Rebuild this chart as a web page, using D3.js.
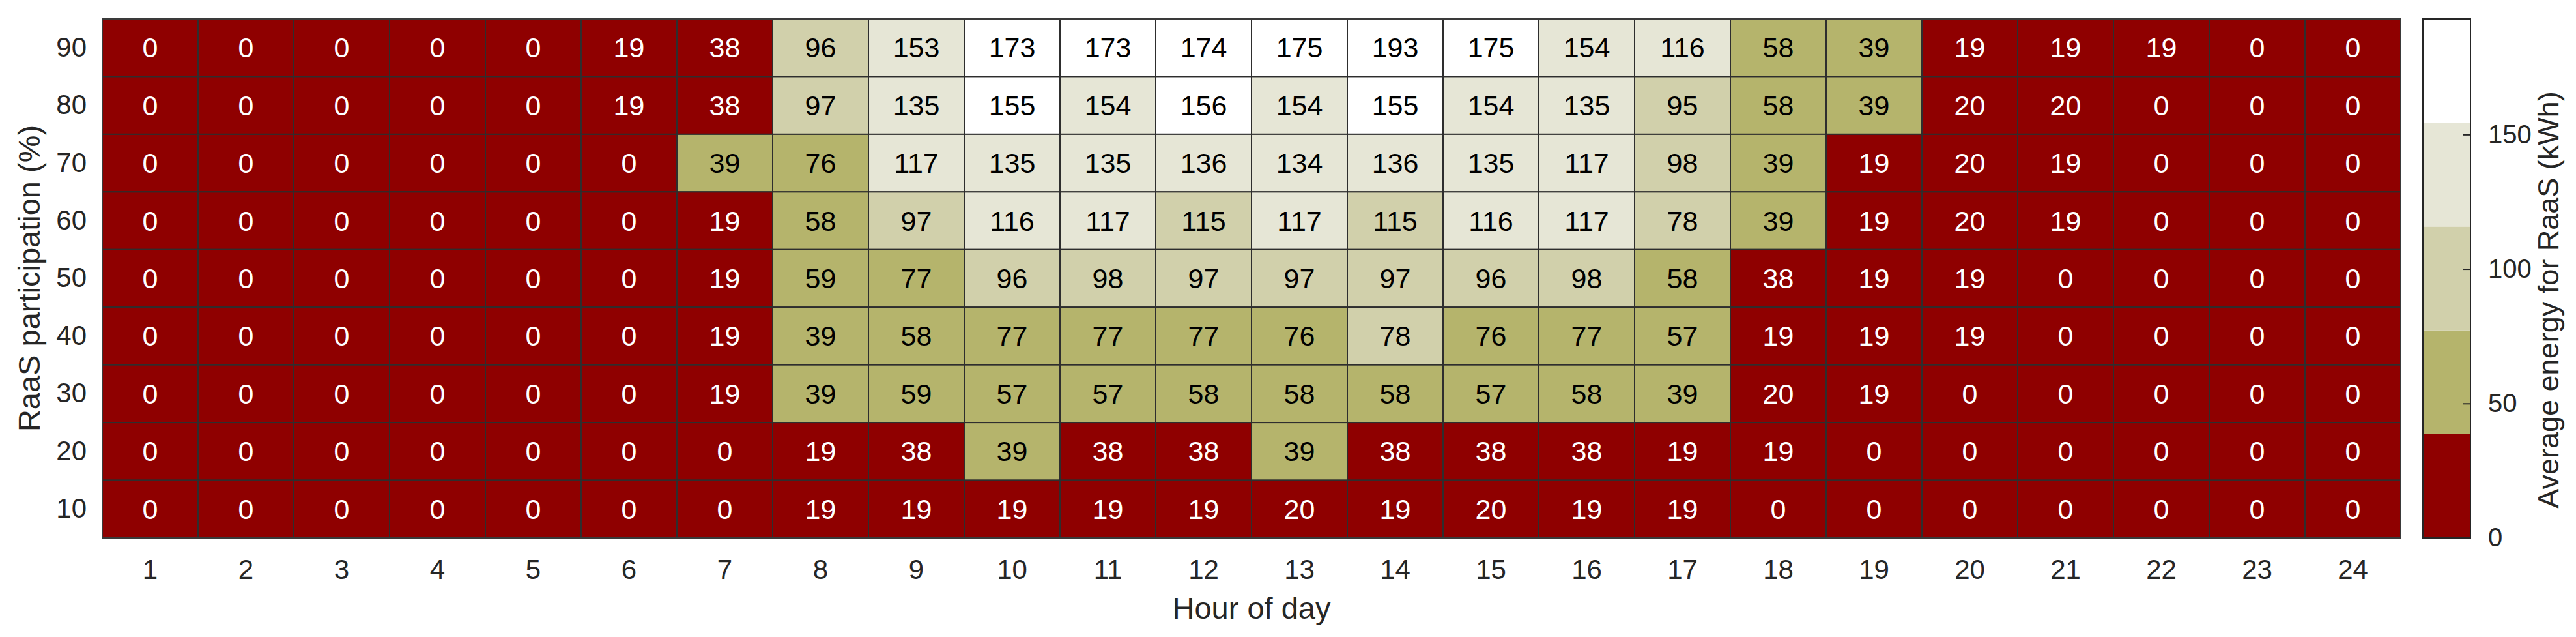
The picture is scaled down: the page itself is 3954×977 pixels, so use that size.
<!DOCTYPE html>
<html>
<head>
<meta charset="utf-8">
<script src="https://cdn.jsdelivr.net/npm/d3@7"></script>
<style>
  html, body { margin: 0; padding: 0; background: #fff; }
  svg { display: block; font-family: "Liberation Sans", Arial, sans-serif; }
</style>
</head>
<body>
<svg id="chart" width="3954" height="977"></svg>
<script>
// hours on x, participation levels on y (top row first)
const hours = d3.range(1, 25);
const participation = [90, 80, 70, 60, 50, 40, 30, 20, 10];

const energy = [
  [0, 0, 0, 0, 0, 19, 38, 96, 153, 173, 173, 174, 175, 193, 175, 154, 116, 58, 39, 19, 19, 19, 0, 0],
  [0, 0, 0, 0, 0, 19, 38, 97, 135, 155, 154, 156, 154, 155, 154, 135, 95, 58, 39, 20, 20, 0, 0, 0],
  [0, 0, 0, 0, 0, 0, 39, 76, 117, 135, 135, 136, 134, 136, 135, 117, 98, 39, 19, 20, 19, 0, 0, 0],
  [0, 0, 0, 0, 0, 0, 19, 58, 97, 116, 117, 115, 117, 115, 116, 117, 78, 39, 19, 20, 19, 0, 0, 0],
  [0, 0, 0, 0, 0, 0, 19, 59, 77, 96, 98, 97, 97, 97, 96, 98, 58, 38, 19, 19, 0, 0, 0, 0],
  [0, 0, 0, 0, 0, 0, 19, 39, 58, 77, 77, 77, 76, 78, 76, 77, 57, 19, 19, 19, 0, 0, 0, 0],
  [0, 0, 0, 0, 0, 0, 19, 39, 59, 57, 57, 58, 58, 58, 57, 58, 39, 20, 19, 0, 0, 0, 0, 0],
  [0, 0, 0, 0, 0, 0, 0, 19, 38, 39, 38, 38, 39, 38, 38, 38, 19, 19, 0, 0, 0, 0, 0, 0],
  [0, 0, 0, 0, 0, 0, 0, 19, 19, 19, 19, 19, 20, 19, 20, 19, 19, 0, 0, 0, 0, 0, 0, 0]
];

const binColors = ["#8f0000", "#b5b46c", "#d1d0ab", "#e6e6d6", "#ffffff"];
const colorTicks = [0, 50, 100, 150];
const colorMax = 193;

const svg = d3.select("#chart");
const plotLeft = 157, plotRight = 3685, plotTop = 29, plotBottom = 825;
const tickColor = "#262626";

const x = d3.scaleBand().domain(hours).range([plotLeft, plotRight]);
const y = d3.scaleBand().domain(participation).range([plotTop, plotBottom]);
const color = d3.scaleQuantize().domain([0, colorMax]).range(binColors);

const cells = [];
energy.forEach((row, i) => row.forEach((v, j) => cells.push({ p: participation[i], h: hours[j], v })));

svg.append("g")
  .selectAll("rect")
  .data(cells)
  .join("rect")
  .attr("x", d => x(d.h))
  .attr("y", d => y(d.p))
  .attr("width", x.bandwidth())
  .attr("height", y.bandwidth())
  .attr("fill", d => color(d.v))
  .attr("stroke", "#2e2e2e")
  .attr("stroke-width", 2);

svg.append("g")
  .selectAll("text")
  .data(cells)
  .join("text")
  .attr("x", d => x(d.h) + x.bandwidth() / 2)
  .attr("y", d => y(d.p) + y.bandwidth() / 2)
  .attr("text-anchor", "middle")
  .attr("dominant-baseline", "central")
  .attr("font-size", 43)
  .attr("fill", d => color(d.v) === binColors[0] ? "#ffffff" : "#000000")
  .text(d => d.v);

// axes (no domain lines, no ticks, like MATLAB heatmap)
const xAxis = svg.append("g")
  .attr("transform", `translate(0,${plotBottom})`)
  .call(d3.axisBottom(x).tickSize(0).tickPadding(0));
xAxis.select(".domain").remove();
xAxis.selectAll("text")
  .attr("y", 63)
  .attr("dy", null)
  .attr("font-size", 42)
  .attr("font-family", null)
  .attr("fill", tickColor);

const yAxis = svg.append("g")
  .attr("transform", `translate(${plotLeft},0)`)
  .call(d3.axisLeft(y).tickSize(0).tickPadding(24));
yAxis.select(".domain").remove();
yAxis.selectAll("text")
  .attr("font-size", 42)
  .attr("font-family", null)
  .attr("fill", tickColor);

svg.append("rect")
  .attr("x", plotLeft).attr("y", plotTop)
  .attr("width", plotRight - plotLeft).attr("height", plotBottom - plotTop)
  .attr("fill", "none").attr("stroke", "#3a3a3a").attr("stroke-width", 2);

svg.append("text")
  .attr("x", (plotLeft + plotRight) / 2)
  .attr("y", 949)
  .attr("text-anchor", "middle")
  .attr("font-size", 47)
  .attr("fill", tickColor)
  .text("Hour of day");

svg.append("text")
  .attr("transform", `translate(61,${(plotTop + plotBottom) / 2}) rotate(-90)`)
  .attr("text-anchor", "middle")
  .attr("font-size", 47)
  .attr("fill", tickColor)
  .text("RaaS participation (%)");

// colorbar
const cbLeft = 3719, cbRight = 3792;
const cbScale = d3.scaleLinear().domain([0, colorMax]).range([plotBottom, plotTop]);
const bins = binColors.map((c, i) => ({ c, lo: (colorMax / binColors.length) * i, hi: (colorMax / binColors.length) * (i + 1) }));

svg.append("g")
  .selectAll("rect")
  .data(bins)
  .join("rect")
  .attr("x", cbLeft)
  .attr("y", d => cbScale(d.hi))
  .attr("width", cbRight - cbLeft)
  .attr("height", d => cbScale(d.lo) - cbScale(d.hi))
  .attr("fill", d => d.c);

const cbAxis = svg.append("g")
  .attr("transform", `translate(${cbRight},0)`)
  .call(d3.axisRight(cbScale).tickValues(colorTicks).tickSize(-12).tickPadding(27));
cbAxis.select(".domain").remove();
cbAxis.selectAll("line").attr("stroke", tickColor).attr("stroke-width", 2);
cbAxis.selectAll("text")
  .attr("font-size", 40)
  .attr("font-family", null)
  .attr("fill", tickColor);

svg.append("rect")
  .attr("x", cbLeft).attr("y", plotTop)
  .attr("width", cbRight - cbLeft).attr("height", plotBottom - plotTop)
  .attr("fill", "none").attr("stroke", "#262626").attr("stroke-width", 2);

svg.append("text")
  .attr("transform", `translate(3927,460) rotate(-90)`)
  .attr("text-anchor", "middle")
  .attr("font-size", 45)
  .attr("fill", tickColor)
  .text("Average energy for RaaS (kWh)");
</script>
</body>
</html>
